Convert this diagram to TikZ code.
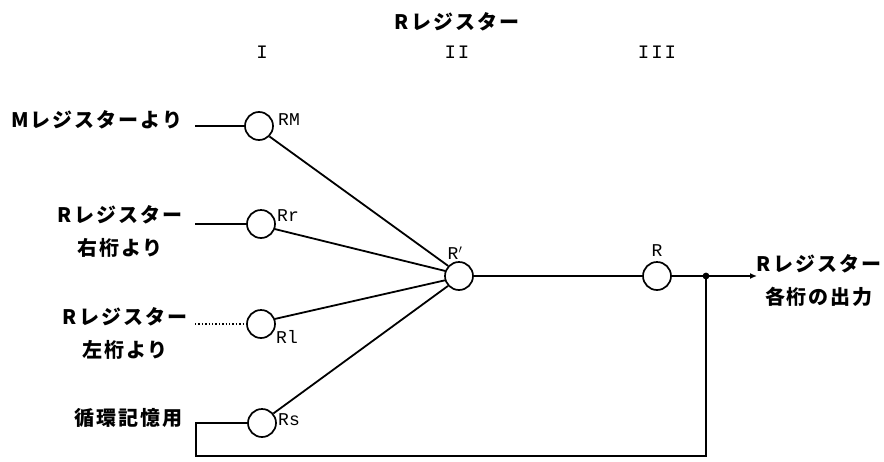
\documentclass[tikz,border=0pt]{standalone}
\usepackage{fontspec}
\newfontfamily\jp[LetterSpace=10]{Noto Sans CJK JP}
\newfontfamily\tagfont{Liberation Mono}
\usetikzlibrary{arrows.meta}

\tikzset{
  gate/.style={circle, draw, line width=1.7pt, minimum size=28pt, inner sep=0pt},
  wire/.style={line width=1.8pt},
  dotwire/.style={line width=1.4pt, dotted},
  jtext/.style={font=\jp\bfseries\fontsize{20}{33}\selectfont, align=center, inner sep=0pt},
  tag/.style={font=\tagfont\fontsize{18}{18}\selectfont, inner sep=0pt},
  roman/.style={font=\tagfont\fontsize{19}{19}\selectfont, inner sep=0pt},
}

\begin{document}
\begin{tikzpicture}[x=1pt, y=-1pt]
\useasboundingbox (0,0) rectangle (884,461);

% heading and stage numbers
\node[jtext] (title) at (457,22) {Rレジスター};
\node[roman] (s1) at (262,52) {I};
\node[roman] (s2) at (457,52) {I\hspace{2pt}I};
\node[roman] (s3) at (657,52) {I\hspace{2pt}I\hspace{2pt}I};

% gates
\node[gate] (RM) at (259,126) {};
\node[gate] (Rr) at (261,224) {};
\node[gate] (Rl) at (261,324) {};
\node[gate] (Rs) at (262,423) {};
\node[gate] (Rp) at (459,276) {};
\node[gate] (R)  at (657,276) {};

% gate tags
\node[tag, anchor=west] (tRM) at (278,120) {RM};
\node[tag, anchor=west] (tRr) at (277,216) {Rr};
\node[tag, anchor=west] (tRl) at (276,337) {Rl};
\node[tag, anchor=west] (tRs) at (278,420) {Rs};
\node[tag] (tRp) at (455,253) {R$'$};
\node[tag] (tR)  at (657,251) {R};

% input sources
\node[jtext] (srcM) at (97,120) {Mレジスターより};
\node[jtext] (srcR) at (120,231) {Rレジスター\\右桁より};
\node[jtext] (srcL) at (125,333) {Rレジスター\\左桁より};
\node[jtext] (srcS) at (128,418) {循環記憶用};
\node[jtext] (out)  at (819,281) {Rレジスター\\各桁の出力};

\coordinate (inM) at (195,126);
\coordinate (inR) at (195,224);
\coordinate (inL) at (195,324);
\coordinate (loopL) at (196,423);
\coordinate (loopB) at (196,456);
\coordinate (J) at (706,276);
\coordinate (outEnd) at (757,276);

% input lines
\draw[wire] (inM) -- (RM.west);
\draw[wire] (inR) -- (Rr.west);
\draw[dotwire] (inL) -- (Rl.west);

% fan-in to R'
\draw[wire] (RM.-45) -- (Rp.137);
\draw[wire] (Rr.-20) -- (Rp.160);
\draw[wire] (Rl.20) -- (Rp.197);
\draw[wire] (Rs.40) -- (Rp.222);

% R' to R and output
\draw[wire] (Rp.east) -- (R.west);
\draw[wire, -{Latex[length=7pt,width=6pt]}] (R.east) -- (outEnd);
\fill (J) circle (3.4pt);

% circulation loop
\draw[wire] (J) -- (J |- loopB) -- (loopB) -- (loopL) -- (Rs.west);
\end{tikzpicture}
\end{document}
